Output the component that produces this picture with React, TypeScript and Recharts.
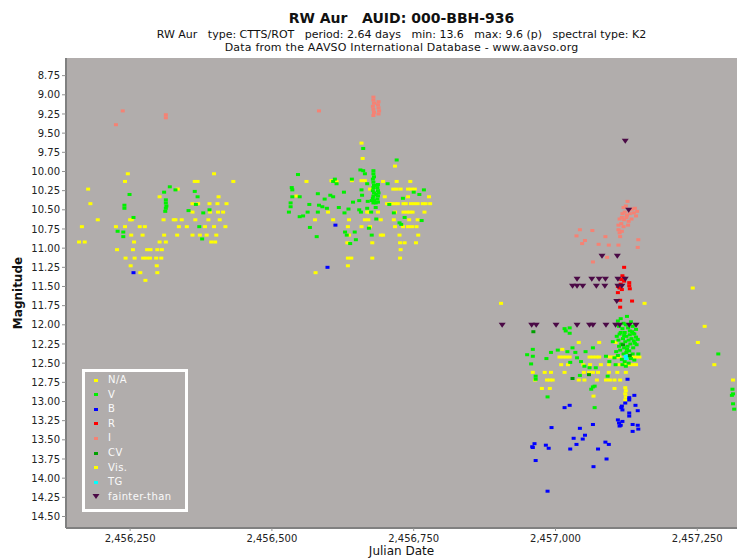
import React from "react";
import { ScatterChart, Scatter, XAxis, YAxis, CartesianGrid } from "recharts";

// Julian dates are stored as offsets from JD0
const JD0 = 2456000;

const xTicks = [2456250, 2456500, 2456750, 2457000, 2457250];
const yTicks = [8.75, 9, 9.25, 9.5, 9.75, 10, 10.25, 10.5, 10.75, 11, 11.25, 11.5, 11.75, 12, 12.25, 12.5, 12.75, 13, 13.25, 13.5, 13.75, 14, 14.25, 14.5];

const naPts = [[246, 10.03], [432, 10.13], [1242, 11.52], [1263, 12.02]];

const visPts = [
  [241, 10.13], [176, 10.23], [180, 10.42], [193, 10.63], [165, 10.72], [160, 10.92], [170, 10.92],
  [302, 10.33], [250, 10.63], [253, 10.63], [225, 10.72], [241, 10.72], [267, 10.72], [276, 10.72], [252, 10.83], [272, 10.83], [257, 10.92],
  [227, 11.02], [255, 11.02], [280, 11.02], [286, 11.02], [298, 11.02], [306, 11.02],
  [242, 11.13], [258, 11.13], [273, 11.13], [279, 11.13], [285, 11.13], [296, 11.13], [305, 11.13],
  [251, 11.23], [297, 11.23], [268, 11.32], [298, 11.32], [277, 11.42],
  [309, 10.63], [327, 10.63], [330, 10.63], [341, 10.63], [310, 10.83], [302, 10.92], [313, 10.92], [334, 10.23], [336, 10.72], [350, 10.72], [333, 10.83], [360, 10.53],
  [364, 10.13], [369, 10.13], [365, 10.63], [360, 10.83], [373, 10.83], [385, 10.83], [402, 10.83], [360, 10.42], [370, 10.42], [390, 10.42], [404, 10.42], [420, 10.42],
  [391, 10.53], [405, 10.53], [414, 10.53], [388, 10.63], [408, 10.63], [382, 10.72], [398, 10.72], [418, 10.72], [393, 10.92], [400, 10.92], [398, 10.03], [406, 10.33],
  [658, 9.63], [660, 9.83], [717, 9.93], [561, 10.13], [605, 10.12], [614, 10.13], [641, 10.12], [658, 10.12], [664, 10.12], [696, 10.13], [720, 10.13], [744, 10.13],
  [714, 10.23], [720, 10.23], [727, 10.23], [740, 10.23], [746, 10.23], [752, 10.23], [543, 10.32], [673, 10.23], [699, 10.33], [740, 10.33], [777, 10.33],
  [703, 10.42], [708, 10.42], [711, 10.42], [717, 10.42], [722, 10.42], [732, 10.42], [736, 10.42], [745, 10.42], [751, 10.42], [757, 10.42], [766, 10.42], [771, 10.42], [779, 10.42],
  [599, 10.53], [668, 10.53], [671, 10.53], [687, 10.53], [717, 10.53], [732, 10.53], [738, 10.53], [743, 10.53], [748, 10.53], [769, 10.53],
  [576, 10.63], [608, 10.63], [636, 10.63], [664, 10.63], [670, 10.63], [692, 10.63], [715, 10.63], [742, 10.63], [757, 10.63],
  [634, 10.72], [658, 10.72], [673, 10.72], [717, 10.72], [731, 10.72], [740, 10.72], [747, 10.72], [755, 10.72],
  [636, 10.83], [692, 10.83], [696, 10.83], [725, 10.83], [758, 10.83],
  [633, 10.93], [677, 10.93], [726, 10.93], [734, 10.93], [754, 10.93],
  [727, 11.02], [634, 11.13], [640, 11.13], [677, 11.13], [726, 11.13], [634, 11.23], [577, 11.32],
  [904, 11.72], [1157, 11.72], [1041, 12.23], [1077, 12.23], [1106, 12.23],
  [1007, 12.42], [1013, 12.42], [1019, 12.42], [1025, 12.42], [1060, 12.42], [1066, 12.42], [1072, 12.42], [1077, 12.42], [1095, 12.42], [1101, 12.42], [1107, 12.42], [1113, 12.42], [1130, 12.42], [1136, 12.42], [1142, 12.42], [1148, 12.42],
  [1012, 12.32], [1010, 12.52], [1022, 12.52], [1049, 12.52], [1061, 12.52], [1080, 12.52], [1094, 12.52], [1110, 12.52], [1116, 12.52], [1122, 12.52], [1130, 12.52], [1136, 12.52], [1142, 12.52],
  [960, 12.62], [981, 12.62], [992, 12.62], [1016, 12.62], [1050, 12.62], [1059, 12.62], [1066, 12.62], [1075, 12.62], [1094, 12.62], [1109, 12.62], [1124, 12.62],
  [964, 12.72], [985, 12.72], [990, 12.72], [995, 12.72], [1041, 12.72], [1051, 12.72], [1073, 12.72], [1089, 12.72], [1096, 12.72], [1104, 12.72], [1114, 12.72],
  [976, 12.83], [990, 12.83], [1104, 12.83], [1067, 12.93],
  [1123, 12.82], [1124, 12.86], [1123, 12.9], [1124, 12.94], [1123, 12.98],
  [1251, 12.23], [1280, 12.52], [1313, 12.72],
];

const vPts = [
  [249, 10.3], [240, 10.44], [240, 10.48], [256, 10.6], [228, 10.78], [238, 10.79], [238, 10.85], [310, 10.27], [320, 10.2], [330, 10.24],
  [313, 10.37], [313, 10.41], [314, 10.45], [313, 10.48], [312, 10.52], [364, 10.26], [369, 10.33], [366, 10.43], [353, 10.51], [379, 10.54], [390, 10.5], [372, 10.72], [377, 10.88],
  [661, 9.7], [720, 9.85], [656, 9.98], [661, 9.99], [664, 10.03], [546, 10.04], [611, 10.1], [641, 10.1], [608, 10.13], [614, 10.16], [704, 10.16], [535, 10.21], [536, 10.24],
  [668, 10.16], [658, 10.24], [768, 10.24], [581, 10.29], [536, 10.33], [549, 10.33], [603, 10.31], [608, 10.33], [627, 10.27], [659, 10.31], [750, 10.27], [760, 10.3],
  [593, 10.36], [643, 10.4], [654, 10.38], [669, 10.39], [707, 10.43], [731, 10.35], [533, 10.41], [533, 10.46], [566, 10.43], [583, 10.44], [589, 10.46], [597, 10.48],
  [618, 10.47], [635, 10.49], [654, 10.5], [657, 10.53], [668, 10.48], [683, 10.47], [675, 10.53], [530, 10.53], [563, 10.53], [581, 10.53], [628, 10.54], [715, 10.54],
  [549, 10.59], [555, 10.58], [734, 10.6], [684, 10.62], [725, 10.67], [728, 10.69], [764, 10.64], [671, 10.74], [567, 10.73], [629, 10.79], [632, 10.83], [646, 10.79],
  [648, 10.89], [676, 10.83], [579, 10.85], [638, 10.94],
  [679, 9.99], [679, 10.03], [680, 10.07], [678, 10.1], [679, 10.14], [680, 10.18], [679, 10.21], [678, 10.25], [680, 10.28], [679, 10.32], [678, 10.35], [680, 10.38], [679, 10.41],
  [687, 10.17], [686, 10.21], [687, 10.25], [688, 10.28], [687, 10.32], [686, 10.36], [687, 10.4], [684, 10.3], [676, 10.38], [683, 10.41],
  [1025, 12.04], [1016, 12.05], [1018, 12.08], [1025, 12.11], [960, 12.32], [950, 12.39], [960, 12.41], [957, 12.51], [965, 12.67], [965, 12.71], [986, 12.94], [992, 12.36],
  [984, 12.44], [1004, 12.33], [1030, 12.3], [1035, 12.36], [1021, 12.35], [1026, 12.49], [1038, 12.43], [1045, 12.48], [1053, 12.35], [1051, 12.54], [1060, 12.56], [1066, 12.3],
  [1071, 12.56], [1043, 12.66], [1063, 12.84], [1066, 12.81], [1069, 12.8], [1069, 13.08], [1089, 12.41], [1095, 12.48], [1092, 12.67], [1101, 12.22], [1104, 12.43], [1106, 12.52],
  [1145, 12.19], [1146, 12.38], [1126, 11.89], [1140, 12.0], [1142, 12.06], [1137, 12.11],
  [1110, 11.95], [1112, 12.02], [1115, 11.92], [1118, 12.05], [1120, 11.98], [1122, 12.1], [1124, 12.0], [1128, 12.04], [1131, 12.08], [1133, 11.96], [1136, 12.02], [1139, 12.12], [1142, 12.16],
  [1108, 12.15], [1111, 12.2], [1113, 12.12], [1116, 12.25], [1119, 12.18], [1121, 12.3], [1123, 12.22], [1125, 12.15], [1127, 12.28], [1129, 12.2], [1132, 12.25], [1134, 12.18], [1137, 12.3], [1140, 12.24], [1143, 12.26],
  [1107, 12.35], [1110, 12.4], [1114, 12.33], [1117, 12.45], [1120, 12.38], [1122, 12.48], [1125, 12.36], [1128, 12.42], [1130, 12.34], [1133, 12.44], [1136, 12.38], [1139, 12.46], [1118, 12.52], [1124, 12.54], [1129, 12.5],
  [1112, 12.28], [1115, 12.1], [1121, 12.14], [1126, 12.32], [1131, 12.13], [1135, 12.09], [1138, 12.21],
  [1287, 12.38], [1312, 12.84], [1313, 12.9], [1311, 12.92], [1313, 13.03], [1315, 13.1],
];

const bPts = [
  [256, 11.32], [612, 10.7], [598, 11.25],
  [1127, 12.71], [1139, 12.92], [1130, 12.95], [1130, 12.98], [1117, 13.06], [1123, 13.02], [1118, 13.11], [1116, 13.08], [1130, 13.15], [1130, 13.19],
  [1110, 13.24], [1112, 13.28], [1115, 13.31], [1118, 13.26], [1113, 13.32], [1141, 13.05], [1145, 13.12], [1136, 13.3], [1145, 13.31], [1136, 13.39], [1146, 13.36],
  [1025, 13.05], [1016, 13.08], [993, 13.34], [1043, 13.35], [1066, 13.3], [1052, 13.44], [1048, 13.49], [1032, 13.48], [1037, 13.56], [1088, 13.53], [1094, 13.56],
  [1075, 13.62], [1026, 13.62], [963, 13.55], [959, 13.59], [960, 13.6], [983, 13.57], [988, 13.61], [965, 13.77], [1090, 13.75], [1067, 13.85], [986, 14.17],
];

const rPts = [
  [1121, 11.25], [1118, 11.36], [1120, 11.39], [1121, 11.43], [1116, 11.41], [1130, 11.45], [1130, 11.49], [1131, 11.53], [1110, 11.5], [1113, 11.52],
  [1117, 11.54], [1115, 11.47], [1110, 11.58], [1114, 11.68], [1135, 11.69], [1114, 11.77],
];

const iPts = [
  [225, 9.39], [237, 9.21], [313, 9.26], [313, 9.3], [583, 9.21],
  [679, 9.03], [679, 9.07], [680, 9.11], [678, 9.15], [679, 9.19], [680, 9.23], [679, 9.27], [688, 9.09], [687, 9.13], [688, 9.17], [689, 9.21], [688, 9.25],
  [1127, 10.39], [1120, 10.47], [1124, 10.45], [1130, 10.5], [1135, 10.49], [1140, 10.48], [1118, 10.55], [1122, 10.53], [1126, 10.57], [1131, 10.55], [1138, 10.54],
  [1144, 10.52], [1113, 10.62], [1117, 10.6], [1121, 10.63], [1125, 10.6], [1129, 10.65], [1134, 10.62], [1142, 10.58], [1111, 10.7], [1116, 10.68], [1120, 10.72],
  [1128, 10.7], [1113, 10.8], [1117, 10.78], [1114, 10.85], [1111, 10.76],
  [1043, 10.76], [1065, 10.77], [1037, 10.84], [1052, 10.9], [1047, 10.94], [1088, 10.85], [1076, 10.95], [1094, 10.96], [1111, 10.96], [1091, 11.12], [1066, 11.18],
  [1146, 10.89], [1145, 10.99],
];

const cvPts = [[961, 12.09], [1059, 12.65], [1030, 12.7], [1119, 12.26], [1131, 12.4]];

const tgPts = [[1124, 12.41], [1125, 12.44]];

const fainterPts = [
  [1123, 9.6], [1129, 10.5], [1082, 11.1], [1109, 11.1], [1038, 11.4], [1064, 11.4], [1077, 11.4], [1088, 11.4], [1110, 11.4], [1123, 11.4],
  [1030, 11.49], [1038, 11.49], [1048, 11.49], [1072, 11.49], [1087, 11.49], [1110, 11.49], [1117, 11.49], [1108, 11.69],
  [906, 12.0], [958, 12.0], [966, 12.0], [1001, 12.0], [1038, 12.0], [1060, 12.0], [1066, 12.0], [1089, 12.0], [1106, 12.0], [1113, 12.0], [1130, 12.0], [1142, 12.0],
];

const bands = [
  { name: "N/A", color: "#ffff00", pts: naPts },
  { name: "V", color: "#00f000", pts: vPts },
  { name: "B", color: "#0000ff", pts: bPts },
  { name: "R", color: "#ff0000", pts: rPts },
  { name: "I", color: "#f58274", pts: iPts },
  { name: "CV", color: "#00a000", pts: cvPts },
  { name: "Vis.", color: "#ffff00", pts: visPts },
  { name: "TG", color: "#00ffff", pts: tgPts },
  { name: "fainter-than", color: "#4b0a46", pts: fainterPts, triangle: true },
];

// draw order: yellow first, then the filter bands
const drawOrder = ["N/A", "Vis.", "V", "CV", "B", "R", "I", "TG", "fainter-than"];

const PLOT_BG = "#b1adac";
const font = "'DejaVu Sans', sans-serif";

const toRows = (pts) => pts.map(([d, m]) => ({ jd: JD0 + d, mag: m }));

const square = (color) => (p) => (
  <rect x={p.cx - 2} y={p.cy - 1.5} width={4} height={3} fill={color} />
);

const tri = (color) => (p) => (
  <polygon points={`${p.cx - 3.5},${p.cy - 2} ${p.cx + 3.5},${p.cy - 2} ${p.cx},${p.cy + 3}`} fill={color} />
);

export default function App() {
  return (
    <div style={{ position: "absolute", left: 0, top: 0, width: 737, height: 558, background: "#fff", fontFamily: font, color: "#111" }}>
      <div style={{ position: "absolute", left: 66, width: 671, top: 10, textAlign: "center", fontSize: 14, fontWeight: "bold", lineHeight: "16px", whiteSpace: "pre" }}>
        {"RW Aur   AUID: 000-BBH-936"}
      </div>
      <div style={{ position: "absolute", left: 66, width: 671, top: 28, textAlign: "center", fontSize: 11, lineHeight: "13px", whiteSpace: "pre" }}>
        {"RW Aur   type: CTTS/ROT   period: 2.64 days   min: 13.6   max: 9.6 (p)   spectral type: K2"}
      </div>
      <div style={{ position: "absolute", left: 66, width: 671, top: 41, textAlign: "center", fontSize: 11, lineHeight: "13px", letterSpacing: 0.2, whiteSpace: "pre" }}>
        {"Data from the AAVSO International Database - www.aavso.org"}
      </div>

      <ScatterChart width={737} height={558} margin={{ top: 58, right: 0, bottom: 0, left: 0 }}>
        <CartesianGrid fill={PLOT_BG} horizontal={false} vertical={false} stroke="none" />
        <XAxis
          type="number"
          dataKey="jd"
          domain={[2456137, 2457320]}
          ticks={xTicks}
          allowDataOverflow
          height={30}
          tickSize={3}
          tickMargin={4}
          tickFormatter={(v) => v.toLocaleString("en-US")}
          tick={{ fontSize: 10, fill: "#222", fontFamily: font }}
          axisLine={{ stroke: "#808080", strokeWidth: 2 }}
          tickLine={{ stroke: "#909090" }}
          label={{ value: "Julian Date", position: "insideBottom", offset: 3, style: { fontSize: 12, fill: "#111", fontFamily: font } }}
        />
        <YAxis
          type="number"
          dataKey="mag"
          reversed
          domain={[8.52, 14.65]}
          ticks={yTicks}
          interval={0}
          allowDataOverflow
          width={66}
          tickSize={4}
          tickFormatter={(v) => v.toFixed(2)}
          tick={{ fontSize: 10, fill: "#222", fontFamily: font }}
          axisLine={{ stroke: "#808080", strokeWidth: 2 }}
          tickLine={{ stroke: "#909090" }}
        />
        {drawOrder.map((n) => {
          const b = bands.find((x) => x.name === n);
          return (
            <Scatter
              key={n}
              name={n}
              data={toRows(b.pts)}
              isAnimationActive={false}
              shape={b.triangle ? tri(b.color) : square(b.color)}
            />
          );
        })}
      </ScatterChart>

      <div style={{ position: "absolute", left: 18, top: 293, transform: "translate(-50%, -50%) rotate(-90deg)", transformOrigin: "center", fontSize: 12, fontWeight: "bold", whiteSpace: "nowrap" }}>
        Magnitude
      </div>

      <div style={{ position: "absolute", left: 82, top: 369, width: 100, height: 137, border: "3px solid #fff", background: PLOT_BG }}>
        {bands.map((b, i) => (
          <div key={b.name} style={{ position: "absolute", left: 0, top: 8 + i * 14.6, height: 0 }}>
            {b.triangle ? (
              <svg width={8} height={6} style={{ position: "absolute", left: 7, top: -3 }}>
                <polygon points="0.5,0 7.5,0 4,5" fill={b.color} />
              </svg>
            ) : (
              <div style={{ position: "absolute", left: 9, top: -1.5, width: 4, height: 3, background: b.color }} />
            )}
            <div style={{ position: "absolute", left: 23, top: -7, fontSize: 10, lineHeight: "13px", color: "#fafafa", whiteSpace: "nowrap", letterSpacing: 0.4 }}>
              {b.name}
            </div>
          </div>
        ))}
      </div>
    </div>
  );
}
